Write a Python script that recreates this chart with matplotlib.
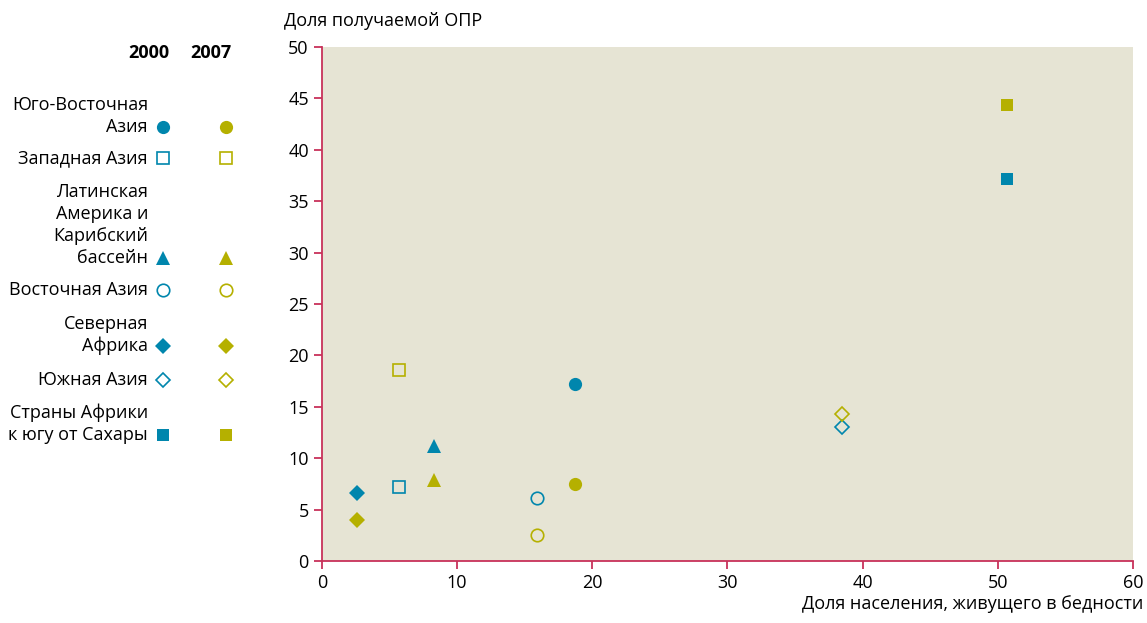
import matplotlib.pyplot as plt

plt.rcParams['font.family'] = ['Open Sans', 'DejaVu Sans']

regions = ['Юго-Восточная\nАзия', 'Западная Азия', 'Латинская\nАмерика и\nКарибский\nбассейн',
           'Восточная Азия', 'Северная\nАфрика', 'Южная Азия', 'Страны Африки\nк югу от Сахары']
markers = ['o', 's', '^', 'o', 'D', 'D', 's']
filled = [True, False, True, False, True, False, True]
poverty = [18.7, 5.7, 8.3, 15.9, 2.6, 38.5, 50.7]
oda_2000 = [17.2, 7.2, 11.2, 6.1, 6.6, 13.0, 37.2]
oda_2007 = [7.5, 18.6, 7.9, 2.5, 4.0, 14.3, 44.4]
years = ['2000', '2007']

teal = '#0086ad'
olive = '#b5b000'
axis_col = '#c8325a'
bg = '#e6e4d4'

fig = plt.figure(figsize=(11.47, 6.23), dpi=100)
ax = fig.add_axes([0.2807, 0.0995, 0.7071, 0.8251])
ax.set_facecolor(bg)

def style(m, fill, col):
    size = {'o': 9.5, 's': 9, '^': 10, 'D': 8}[m]
    if fill:
        return dict(marker=m, color=col, markersize=size, markeredgewidth=0, linestyle='none')
    return dict(marker=m, markerfacecolor='none', markeredgecolor=col, markersize=size - 0.5,
                markeredgewidth=1.2, linestyle='none')

for i in range(len(regions)):
    ax.plot(poverty[i], oda_2000[i], **style(markers[i], filled[i], teal), clip_on=False)
    ax.plot(poverty[i], oda_2007[i], **style(markers[i], filled[i], olive), clip_on=False)

ax.set_xlim(0, 60)
ax.set_ylim(0, 50)
ax.set_xticks(range(0, 61, 10))
ax.set_yticks(range(0, 51, 5))
for s in ['top', 'right']:
    ax.spines[s].set_visible(False)
for s in ['left', 'bottom']:
    ax.spines[s].set_color(axis_col)
    ax.spines[s].set_linewidth(1.3)
ax.tick_params(colors=axis_col, labelcolor='black', labelsize=13, length=6, width=1.3)

fig.text(0.9965, 0.016, 'Доля населения, живущего в бедности', ha='right', va='bottom', fontsize=13)
fig.text(0.248, 0.967, 'Доля получаемой ОПР', ha='left', va='center', fontsize=13)

# legend drawn on an overlay in pixel coordinates
lg = fig.add_axes([0, 0, 1, 1], facecolor='none')
lg.set_xlim(0, 1147)
lg.set_ylim(623, 0)
lg.axis('off')
col_x = [163, 226]
for yr, cx in zip(years, [149, 211]):
    lg.text(cx, 53, yr, ha='center', va='center', fontsize=13, fontweight='bold')
row_y = [127, 158, 258, 290, 346, 380, 435]
for i, name in enumerate(regions):
    lines = name.split('\n')
    for k, line in enumerate(lines):
        lg.text(148, row_y[i] - 22 * (len(lines) - 1 - k), line, ha='right', va='center', fontsize=13)
    lg.plot(col_x[0], row_y[i], **style(markers[i], filled[i], teal))
    lg.plot(col_x[1], row_y[i], **style(markers[i], filled[i], olive))

fig.savefig('out.png', dpi=100)
